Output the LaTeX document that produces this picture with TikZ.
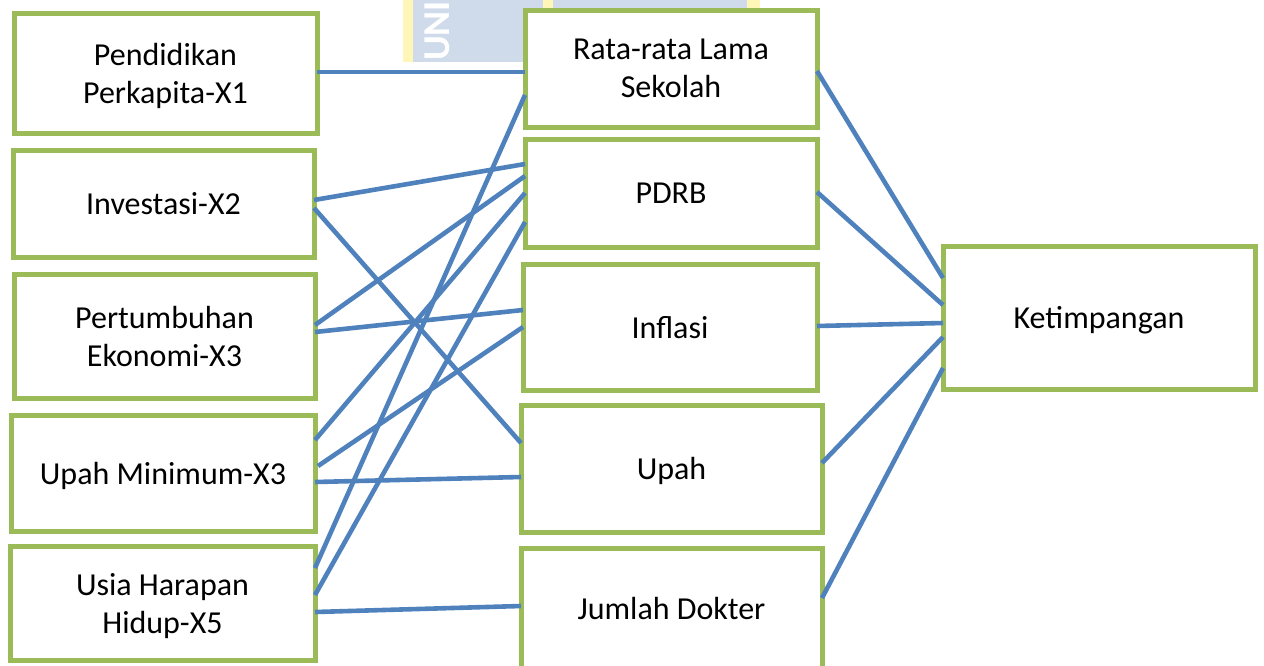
\documentclass[tikz,border=0pt]{standalone}
\usepackage{fontspec}
\setmainfont{Carlito}
\usetikzlibrary{calc}
\definecolor{boxgreen}{HTML}{9BBB59}
\definecolor{linkblue}{HTML}{4F81BD}
\definecolor{wmblue}{HTML}{CFDBEA}
\definecolor{wmyellow}{HTML}{FFF6B8}
\begin{document}
\begin{tikzpicture}[x=1pt,y=-1pt,
  box/.style={draw=boxgreen, line width=5pt, fill=white, inner sep=0pt, outer sep=0pt,
    align=center, font=\fontsize{32}{38}\selectfont, text=black, text depth=0pt},
  link/.style={draw=linkblue, line width=4.6pt}]
\useasboundingbox (0,0) rectangle (1264,665);
% watermark
\fill[wmyellow] (403,0) rectangle (760,62);
\fill[wmblue] (413,0) rectangle (543,62);
\fill[wmblue] (553,0) rectangle (747,62);
\node[text=white, rotate=90, font=\bfseries\fontsize{38}{38}\selectfont, inner sep=0pt] (wm) at (437,31) {UNI};
% left column
\node[box, minimum width=303pt, minimum height=120pt] (x1) at (165.5,73) {Pendidikan\\Perkapita-X1};
\node[box, minimum width=301pt, minimum height=107pt] (x2) at (163.5,203.5) {Investasi-X2};
\node[box, minimum width=301pt, minimum height=124pt] (x3) at (164.5,336) {Pertumbuhan\\Ekonomi-X3};
\node[box, minimum width=304pt, minimum height=116pt] (x4) at (163,473) {Upah Minimum-X3};
\node[box, minimum width=305pt, minimum height=114pt] (x5) at (162.5,603) {Usia Harapan\\Hidup-X5};
% middle column
\node[box, minimum width=292pt, minimum height=117pt] (rls) at (671,68.5) {Rata-rata Lama\\Sekolah};
\node[box, minimum width=292pt, minimum height=108pt] (pdrb) at (671,193) {PDRB};
\node[box, minimum width=294pt, minimum height=126pt] (inf) at (670,327) {Inflasi};
\node[box, minimum width=301pt, minimum height=127pt] (upah) at (671.5,468.5) {Upah};
\node[box, minimum width=301pt, minimum height=120pt] (jd) at (671.5,608) {Jumlah Dokter};
% right
\node[box, minimum width=312pt, minimum height=143pt] (k) at (1099,317.5) {Ketimpangan};
% connectors left -> middle
\draw[link] ($(x1.east)+(0,-1)$) -- ($(rls.west)+(0,3.5)$);
\draw[link] ($(x2.east)+(0,-3.5)$) -- ($(pdrb.west)+(0,-29)$);
\draw[link] ($(x2.east)+(0,4.5)$) -- ($(upah.west)+(0,-25.5)$);
\draw[link] ($(x3.east)+(0,-11)$) -- ($(pdrb.west)+(0,-17)$);
\draw[link] ($(x3.east)+(0,-4)$) -- ($(inf.west)+(0,-17)$);
\draw[link] ($(x4.east)+(0,-33)$) -- ($(pdrb.west)+(0,0)$);
\draw[link] ($(x4.east)+(3,-7)$) -- ($(inf.west)+(0,0)$);
\draw[link] ($(x4.east)+(0,9)$) -- ($(upah.west)+(0,8.5)$);
\draw[link] ($(x5.east)+(0,-35)$) -- ($(rls.west)+(0,26.5)$);
\draw[link] ($(x5.east)+(0,-8)$) -- ($(pdrb.west)+(0,29)$);
\draw[link] ($(x5.east)+(0,9)$) -- ($(jd.west)+(0,-2)$);
% connectors middle -> right
\draw[link] ($(rls.east)+(0,2.5)$) -- ($(k.west)+(0,-39.5)$);
\draw[link] ($(pdrb.east)+(0,-1)$) -- ($(k.west)+(0,-12.5)$);
\draw[link] ($(inf.east)+(0,-1)$) -- ($(k.west)+(0,5.5)$);
\draw[link] ($(upah.east)+(0,-5.5)$) -- ($(k.west)+(0,19.5)$);
\draw[link] ($(jd.east)+(0,-10)$) -- ($(k.west)+(0,50.5)$);
\end{tikzpicture}
\end{document}
